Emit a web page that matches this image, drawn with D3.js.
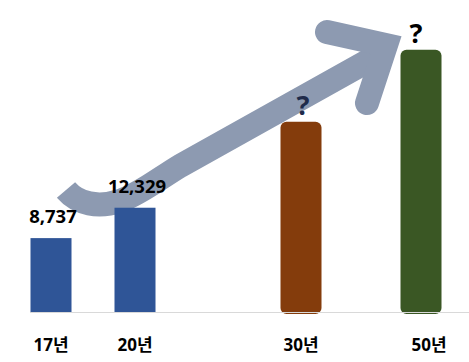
<!DOCTYPE html>
<html>
<head>
<meta charset="utf-8">
<script src="https://cdn.jsdelivr.net/npm/d3@7"></script>
<style>
  html, body { margin: 0; padding: 0; background: #fff; }
  text { font-family: "Noto Sans", "Noto Sans CJK KR", sans-serif; font-weight: bold; }
</style>
</head>
<body>
<svg id="chart"></svg>
<script>
const years = ["17년", "20년", "30년", "50년"];
const values = [8737, 12329, 22500, 31000];
const valueLabels = ["8,737", "12,329", "?", "?"];

const W = 469, H = 362;
const BASE = 312;
const BAR_W = 41;

const svg = d3.select("#chart").attr("width", W).attr("height", H);

const x = d3.scaleOrdinal()
    .domain(years)
    .range([51, 135, 301, 421]);

const y = d3.scaleLinear()
    .domain([0, 35000])
    .range([BASE, 16]);

const color = d3.scaleOrdinal()
    .domain(years)
    .range(["#2F5597", "#2F5597", "#843C0C", "#3A5724"]);

// projected years get rounded bars
const rounded = d => years.indexOf(d) >= 2;

const data = years.map((d, i) => ({ year: d, value: values[i], label: valueLabels[i] }));

// growth arrow behind everything
const arrow = svg.append("g")
    .attr("fill", "none")
    .attr("stroke", "#8D9AB1")
    .attr("stroke-width", 24);

arrow.append("path")
    .attr("d", "M66,190 C78,204 98,208 120,201 C140,194 160,178 180,166 L384,52")
    .attr("stroke-linecap", "butt")
    .attr("stroke-linejoin", "round");

arrow.append("path")
    .attr("d", "M327,32 L386,45 L367,103")
    .attr("stroke-linecap", "round")
    .attr("stroke-linejoin", "miter");

// bars
svg.append("g")
    .selectAll("rect")
    .data(data)
    .enter()
    .append("rect")
    .attr("x", d => x(d.year) - BAR_W / 2)
    .attr("y", d => y(d.value))
    .attr("width", BAR_W)
    .attr("height", d => BASE - y(d.value) + (rounded(d.year) ? 2 : 0))
    .attr("rx", d => rounded(d.year) ? 6 : 0)
    .attr("fill", d => color(d.year));

// baseline
svg.append("line")
    .attr("x1", 30)
    .attr("x2", W)
    .attr("y1", BASE + 0.5)
    .attr("y2", BASE + 0.5)
    .attr("stroke", "#D9D9D9")
    .attr("stroke-width", 1);

// value labels
svg.append("g")
    .selectAll("text")
    .data(data)
    .enter()
    .append("text")
    .attr("x", d => x(d.year))
    .attr("dx", (d, i) => i === 3 ? -5 : 2)
    .attr("y", d => y(d.value) - (d.label === "?" ? 7 : 15))
    .attr("text-anchor", "middle")
    .attr("font-size", d => d.label === "?" ? 27 : 18.5)
    .attr("fill", (d, i) => i === 2 ? "#1F2B4A" : "#000")
    .text(d => d.label);

// category labels
svg.append("g")
    .selectAll("text")
    .data(data)
    .enter()
    .append("text")
    .attr("x", d => x(d.year))
    .attr("dx", (d, i) => i === 3 ? 8 : 0)
    .attr("y", 351)
    .attr("text-anchor", "middle")
    .attr("font-size", 17)
    .attr("fill", "#000")
    .text(d => d.year);
</script>
</body>
</html>
